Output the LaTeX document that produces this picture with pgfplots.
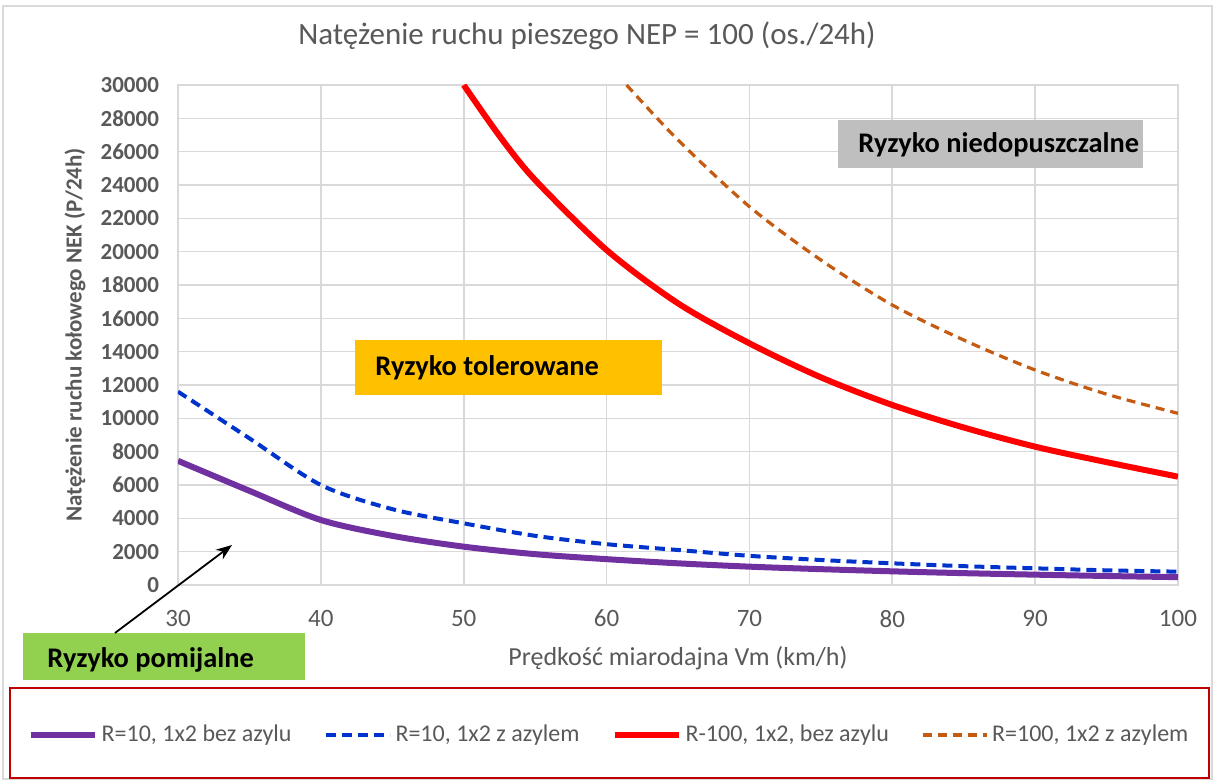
\documentclass[border=0pt]{standalone}
\usepackage{fontspec}
\setmainfont{Carlito}
\usepackage{pgfplots}
\pgfplotsset{compat=1.18}
\usetikzlibrary{arrows.meta}
\definecolor{txtgrey}{HTML}{595959}
\definecolor{gridgrey}{HTML}{D9D9D9}
\definecolor{cpurple}{HTML}{7030A0}
\definecolor{cblue}{HTML}{0033CC}
\definecolor{cred}{HTML}{FF0000}
\definecolor{cbrown}{HTML}{C55A11}
\definecolor{boxorange}{HTML}{FFC000}
\definecolor{boxgrey}{HTML}{BFBFBF}
\definecolor{boxgreen}{HTML}{92D050}
\definecolor{framered}{HTML}{C00000}

\begin{document}
\begin{tikzpicture}
\begin{axis}[
  name=ax,
  width=500pt, height=250pt, scale only axis,
  xmin=30, xmax=100, ymin=0, ymax=30000,
  xtick={30,40,...,100}, ytick={0,2000,...,30000},
  scaled y ticks=false,
  grid=major,
  major grid style={draw=gridgrey, line width=0.8pt},
  axis line style={draw=gridgrey, line width=0.8pt},
  major tick length=0pt,
  /pgf/number format/assume math mode=true,
  /pgf/number format/1000 sep={},
  ticklabel style={text=txtgrey},
  xticklabel style={font=\fontsize{12.5}{14}\selectfont, yshift=-9pt},
  yticklabel style={font=\bfseries\fontsize{11.5}{13}\selectfont, xshift=-6pt},
  clip mode=individual,
  title={Natężenie ruchu pieszego NEP = 100 (os./24h)},
  title style={at={(rel axis cs:0.409,1.074)}, anchor=center,
    font=\fontsize{15.5}{18}\selectfont, text=txtgrey},
  xlabel={Prędkość miarodajna Vm (km/h)},
  xlabel style={at={(rel axis cs:0.5,-0.146)}, anchor=center,
    font=\fontsize{13}{15}\selectfont, text=txtgrey},
  ylabel={Natężenie ruchu kołowego NEK (P/24h)},
  ylabel style={at={(rel axis cs:-0.103,0.5)}, anchor=center, rotate=0,
    font=\bfseries\fontsize{11.5}{13}\selectfont, text=txtgrey},
  legend columns=4,
  legend style={at={(rel axis cs:0.432,-0.30)}, anchor=center, draw=none, fill=none,
    font=\fontsize{12}{14}\selectfont, text=txtgrey,
    /tikz/every even column/.append style={column sep=14pt}},
  legend image code/.code={\draw[#1] (0pt,0pt) -- (32pt,0pt);},
]
\addplot[cpurple, line width=3pt, smooth] coordinates {
  (30,7450) (35,5650) (40,3900) (45,2950) (50,2300) (55,1850) (60,1550)
  (65,1300) (70,1100) (75,950) (80,820) (85,710) (90,620) (95,540) (100,470)};
\addplot[cblue, line width=2pt, dash pattern=on 5pt off 3pt, smooth] coordinates {
  (30,11600) (35,8800) (40,6000) (45,4550) (50,3700) (55,2950) (60,2450)
  (65,2100) (70,1750) (75,1500) (80,1300) (85,1130) (90,1000) (95,880) (100,800)};
\addplot[cred, line width=3pt, smooth] coordinates {
  (50,30000) (52.5,26950) (55,24300) (60,20100) (65,16900) (70,14500)
  (75,12460) (80,10800) (85,9450) (90,8300) (95,7370) (100,6500)};
\addplot[cbrown, line width=1.6pt, dash pattern=on 4.5pt off 3pt, smooth] coordinates {
  (61.4,30000) (65,26700) (70,22700) (75,19500) (80,16800) (85,14700)
  (90,12900) (95,11450) (100,10300)};
\legend{R=10{,} 1x2 bez azylu, R=10{,} 1x2 z azylem, R-100{,} 1x2{,} bez azylu, R=100{,} 1x2 z azylem}

\fill[boxorange] (axis cs:42.39,11400) rectangle (axis cs:63.88,14700);
\node[anchor=west, inner sep=0pt, font=\bfseries\fontsize{14.2}{16}\selectfont] at (axis cs:43.79,13020) {Ryzyko tolerowane};
\fill[boxgrey] (axis cs:76.2,25020) rectangle (axis cs:97.55,27900);
\node[anchor=west, inner sep=0pt, font=\bfseries\fontsize{14.2}{16}\selectfont] at (axis cs:77.6,26400) {Ryzyko niedopuszczalne};
\fill[boxgreen] (axis cs:19.15,-5700) rectangle (axis cs:38.9,-2880);
\node[anchor=west, inner sep=0pt, font=\bfseries\fontsize{14.2}{16}\selectfont] at (axis cs:20.83,-4500) {Ryzyko pomijalne};
\draw[-{Stealth[length=8pt,width=6pt]}, line width=0.9pt] (axis cs:25.59,-2880) -- (axis cs:33.78,2400);
\end{axis}
\draw[gridgrey, line width=1pt] ([shift={(-87.5pt,-97pt)}]ax.south west) rectangle ([shift={(517pt,289.5pt)}]ax.south west);
\draw[framered, line width=0.8pt] ([shift={(-84pt,-96.5pt)}]ax.south west) rectangle ([shift={(515.5pt,-51.5pt)}]ax.south west);
\pgfresetboundingbox
\useasboundingbox ([shift={(-89pt,-97.5pt)}]ax.south west) rectangle ([shift={(518.5pt,292.5pt)}]ax.south west);
\end{tikzpicture}
\end{document}
